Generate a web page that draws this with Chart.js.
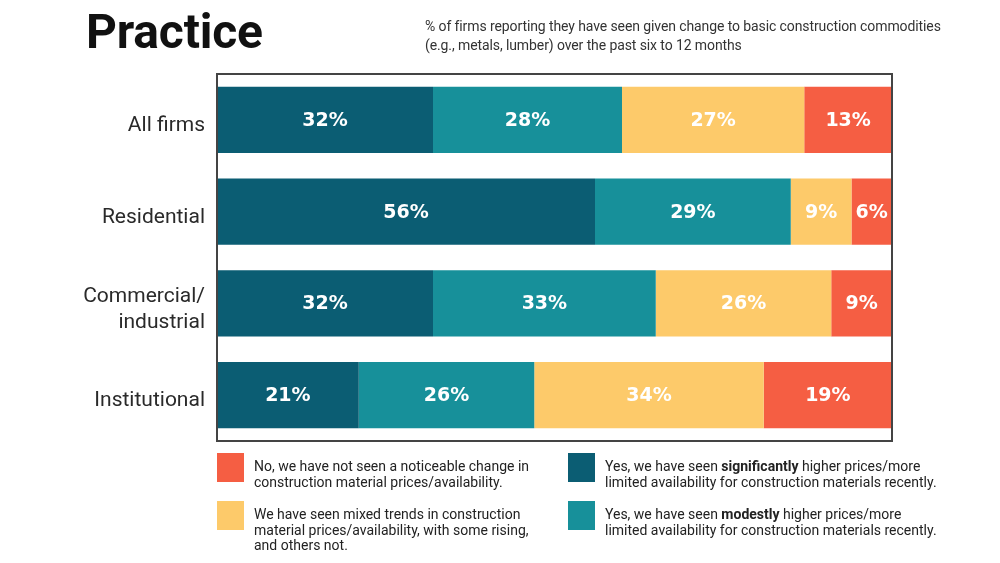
<!DOCTYPE html>
<html>
<head>
<meta charset="utf-8">
<script src="https://cdn.jsdelivr.net/npm/chart.js@4.4.1/dist/chart.umd.min.js"></script>
<style>
  body { margin: 0; background: #fff; }
  #wrap { position: relative; width: 1000px; height: 563px; overflow: hidden; }
  #title { position: absolute; left: 86px; top: 3px; font: bold 48px Roboto, sans-serif; color: #111; letter-spacing: -0.2px; }
  #sub { position: absolute; left: 425px; top: 17px; font: 14px Roboto, sans-serif; color: #333; line-height: 19px; letter-spacing: -0.1px; }
  .leg { position: absolute; display: flex; font: 14px Roboto, sans-serif; color: #222; line-height: 15.5px; }
  .leg .sw { width: 27px; height: 29px; margin-right: 10px; flex: none; }
  .leg .tx { padding-top: 6px; }
</style>
</head>
<body>
<div id="wrap">
  <canvas id="chart" width="1000" height="563"></canvas>
  <div id="title">Practice</div>
  <div id="sub">% of firms reporting they have seen given change to basic construction commodities<br>(e.g., metals, lumber) over the past six to 12 months</div>
  <div id="legend"></div>
</div>
<script>
var categories = ['All firms', 'Residential', ['Commercial/', 'industrial'], 'Institutional'];
var significantly = [32, 56, 32, 21];
var modestly = [28, 29, 33, 26];
var mixed = [27, 9, 26, 34];
var noChange = [13, 6, 9, 19];

var colors = ['#0b5d73', '#17909a', '#fdca6a', '#f55e43'];

var legendItems = [
    { color: colors[3], x: 217, y: 453, lines: ['No, we have not seen a noticeable change in', 'construction material prices/availability.'] },
    { color: colors[0], x: 568, y: 453, lines: ['Yes, we have seen <b>significantly</b> higher prices/more', 'limited availability for construction materials recently.'] },
    { color: colors[2], x: 217, y: 501, lines: ['We have seen mixed trends in construction', 'material prices/availability, with some rising,', 'and others not.'] },
    { color: colors[1], x: 568, y: 501, lines: ['Yes, we have seen <b>modestly</b> higher prices/more', 'limited availability for construction materials recently.'] }
];

var legend = document.getElementById('legend');
legendItems.forEach(function (it) {
    var d = document.createElement('div');
    d.className = 'leg';
    d.style.left = it.x + 'px';
    d.style.top = it.y + 'px';
    d.innerHTML = '<div class="sw" style="background:' + it.color + '"></div><div class="tx">' + it.lines.join('<br>') + '</div>';
    legend.appendChild(d);
});

// white % labels in the middle of every bar + frame round the plot
var barLabels = {
    id: 'barLabels',
    afterDatasetsDraw: function (chart) {
        var ctx = chart.ctx;
        ctx.save();
        ctx.fillStyle = '#fff';
        ctx.font = 'bold 19px "DejaVu Sans", sans-serif';
        ctx.textAlign = 'center';
        ctx.textBaseline = 'middle';
        chart.data.datasets.forEach(function (ds, i) {
            chart.getDatasetMeta(i).data.forEach(function (bar, j) {
                var cx = (bar.x + bar.base) / 2;
                ctx.fillText(ds.data[j] + '%', cx, bar.y + 1);
            });
        });
        var a = chart.chartArea;
        ctx.strokeStyle = '#444';
        ctx.lineWidth = 2;
        ctx.strokeRect(a.left, a.top, a.right - a.left, a.bottom - a.top);
        ctx.restore();
    }
};

new Chart(document.getElementById('chart'), {
    type: 'bar',
    data: {
        labels: categories,
        datasets: [
            { label: 'significantly', data: significantly, backgroundColor: colors[0] },
            { label: 'modestly', data: modestly, backgroundColor: colors[1] },
            { label: 'mixed', data: mixed, backgroundColor: colors[2] },
            { label: 'no change', data: noChange, backgroundColor: colors[3] }
        ]
    },
    options: {
        indexAxis: 'y',
        responsive: false,
        animation: false,
        barPercentage: 0.72,
        categoryPercentage: 1,
        layout: { padding: { left: 0, top: 74, right: 108, bottom: 122 } },
        plugins: {
            legend: { display: false },
            tooltip: { enabled: false }
        },
        scales: {
            x: { stacked: true, min: 0, max: 100, display: false },
            y: {
                stacked: true,
                grid: { display: false, drawTicks: false },
                border: { display: false },
                ticks: {
                    color: '#2a2a2a',
                    padding: 12,
                    labelOffset: 6,
                    font: { family: 'Roboto', size: 21, lineHeight: 1.25 }
                },
                afterFit: function (scale) { scale.width = 217; }
            }
        }
    },
    plugins: [barLabels]
});
</script>
</body>
</html>
